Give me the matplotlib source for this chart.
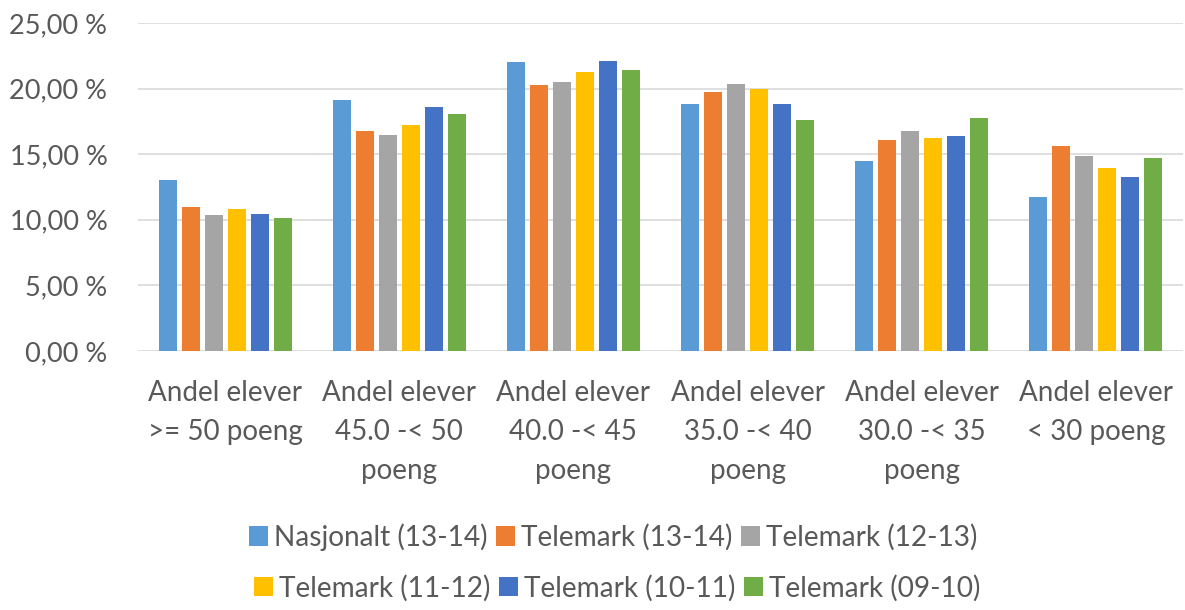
import matplotlib
matplotlib.use("Agg")
import matplotlib.pyplot as plt
from matplotlib.patches import Patch
from matplotlib.ticker import FuncFormatter
import numpy as np

plt.rcParams['font.family'] = ['Lato', 'DejaVu Sans']

# kategorier
kategorier = [
    "Andel elever\n>= 50 poeng",
    "Andel elever\n45.0 -< 50\npoeng",
    "Andel elever\n40.0 -< 45\npoeng",
    "Andel elever\n35.0 -< 40\npoeng",
    "Andel elever\n30.0 -< 35\npoeng",
    "Andel elever\n< 30 poeng",
]

serie_navn = ["Nasjonalt (13-14)", "Telemark (13-14)", "Telemark (12-13)",
              "Telemark (11-12)", "Telemark (10-11)", "Telemark (09-10)"]

nasjonalt_1314 = [13.07, 19.13, 22.02, 18.85, 14.46, 11.70]
telemark_1314 = [10.94, 16.74, 20.24, 19.73, 16.06, 15.62]
telemark_1213 = [10.40, 16.44, 20.49, 20.34, 16.74, 14.86]
telemark_1112 = [10.81, 17.20, 21.26, 19.99, 16.23, 13.98]
telemark_1011 = [10.45, 18.59, 22.12, 18.85, 16.36, 13.24]
telemark_0910 = [10.10, 18.09, 21.38, 17.58, 17.73, 14.69]

serier = [nasjonalt_1314, telemark_1314, telemark_1213,
          telemark_1112, telemark_1011, telemark_0910]
farger = ['#5B9BD5', '#ED7D31', '#A5A5A5', '#FFC000', '#4472C4', '#70AD47']

tekst_farge = '#595959'

fig = plt.figure(figsize=(11.85, 6.1), dpi=100)
ax = fig.add_axes([138 / 1185, 1 - 351 / 610, (1183 - 138) / 1185, (351 - 23) / 610])

x = np.arange(len(kategorier))
steg = 0.132
bredde = 0.104
for i, (verdier, farge) in enumerate(zip(serier, farger)):
    ax.bar(x + (i - 2.5) * steg, verdier, width=bredde, color=farge, zorder=3)

ax.set_xlim(-0.5, len(kategorier) - 0.5)
ax.set_ylim(0, 25)
ax.set_yticks(np.arange(0, 26, 5))
ax.yaxis.set_major_formatter(FuncFormatter(lambda v, p: f"{v:.2f}".replace('.', ',') + " %"))
ax.grid(axis='y', color='#D9D9D9', linewidth=1.2, zorder=0)
for s in ['top', 'right', 'left', 'bottom']:
    ax.spines[s].set_visible(False)
ax.tick_params(axis='both', length=0, colors=tekst_farge)
ax.tick_params(axis='y', pad=22, labelsize=19.5)
ax.tick_params(axis='x', pad=21, labelsize=20)
ax.set_xticks(x)
ax.set_xticklabels(kategorier, linespacing=1.62)

# legende i to rader
handles = [Patch(facecolor=f, edgecolor='none') for f in farger]
fig.legend(handles[:3], serie_navn[:3], ncol=3, loc='center',
           bbox_to_anchor=(613 / 1185, 1 - 537 / 610), frameon=False,
           fontsize=20.2, labelcolor=tekst_farge, handlelength=0.7,
           handleheight=0.7, handletextpad=0.2, columnspacing=0.3)
fig.legend(handles[3:], serie_navn[3:], ncol=3, loc='center',
           bbox_to_anchor=(617 / 1185, 1 - 588 / 610), frameon=False,
           fontsize=20.2, labelcolor=tekst_farge, handlelength=0.7,
           handleheight=0.7, handletextpad=0.2, columnspacing=0.3)

fig.savefig("out.png", dpi=100)
